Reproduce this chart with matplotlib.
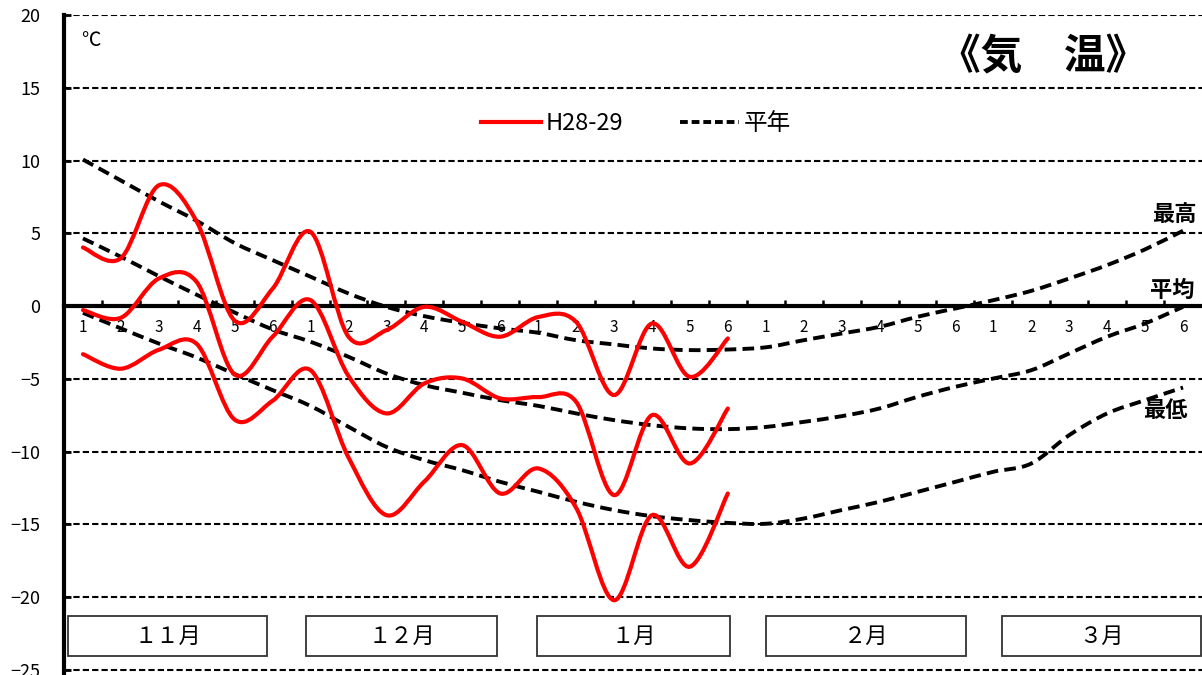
import numpy as np
import matplotlib
matplotlib.use('Agg')
import matplotlib.pyplot as plt
from matplotlib.path import Path
from matplotlib.patches import PathPatch, Rectangle
from matplotlib.lines import Line2D

plt.rcParams['font.family'] = ['Noto Sans CJK JP', 'DejaVu Sans']

# 半旬 (pentad) labels, Nov -> Mar
months = ['１１月', '１２月', '１月', '２月', '３月']
pentads = ['1', '2', '3', '4', '5', '6']
x_labels = pentads * len(months)

# 平年 (normal)
normal_max = [10.07, 8.63, 7.2, 5.86, 4.33, 3.16, 2.02, 0.87, -0.05, -0.69,
              -1.15, -1.53, -1.83, -2.34, -2.63, -2.91, -3.02, -2.98, -2.83, -2.34,
              -1.88, -1.42, -0.73, -0.16, 0.41, 1.05, 1.9, 2.82, 3.9, 5.18]
normal_mean = [4.65, 3.39, 2.06, 0.78, -0.44, -1.6, -2.45, -3.48, -4.63, -5.43,
               -5.95, -6.46, -6.85, -7.37, -7.83, -8.18, -8.4, -8.45, -8.3, -7.95,
               -7.56, -7.03, -6.23, -5.54, -4.97, -4.4, -3.25, -2.1, -1.19, -0.05]
normal_min = [-0.46, -1.53, -2.57, -3.53, -4.67, -5.77, -6.86, -8.29, -9.67, -10.58,
              -11.27, -12.07, -12.75, -13.44, -14.01, -14.43, -14.7, -14.89, -14.95, -14.59,
              -14.01, -13.44, -12.76, -12.07, -11.38, -10.81, -8.86, -7.37, -6.46, -5.59]

# H28-29
obs_max = [4.03, 3.3, 8.3, 5.8, -1.0, 1.2, 5.1, -2.1, -1.65, -0.05,
           -1.08, -2.1, -0.75, -1.08, -6.11, -1.19, -4.86, -2.22]
obs_mean = [-0.27, -0.8, 1.9, 1.65, -4.7, -2.1, 0.41, -4.8, -7.37, -5.31,
            -4.97, -6.34, -6.25, -6.57, -12.98, -7.49, -10.81, -7.03]
obs_min = [-3.3, -4.3, -3.0, -2.6, -7.8, -6.5, -4.4, -10.4, -14.36, -12.05,
           -9.55, -12.87, -11.15, -13.85, -20.2, -14.36, -17.9, -12.87]

# month boxes, in x data units
month_spans = [(-0.4, 4.86), (5.88, 10.92), (11.98, 17.07), (18.0, 23.28), (24.23, 29.48)]

RED = '#ff0000'
DASH = (0, (3, 1.6))


def smooth_path(ys):
    # excel-like smoothed line: catmull-rom turned into cubic beziers
    pts = np.column_stack([np.arange(len(ys)), ys]).astype(float)
    n = len(pts)
    verts = [pts[0]]
    codes = [Path.MOVETO]
    for k in range(n - 1):
        p0 = pts[k - 1] if k > 0 else pts[k]
        p1 = pts[k]
        p2 = pts[k + 1]
        p3 = pts[k + 2] if k + 2 < n else pts[k + 1]
        verts += [p1 + (p2 - p0) / 6, p2 - (p3 - p1) / 6, p2]
        codes += [Path.CURVE4] * 3
    return Path(verts, codes)


fig = plt.figure(figsize=(12.02, 6.75), dpi=100)
ax = fig.add_axes([64 / 1202, 0, 1138 / 1202, 660 / 675])
ax.set_xlim(-0.5, 29.5)
ax.set_ylim(-25.34, 20)

for s in ['top', 'right']:
    ax.spines[s].set_visible(False)
ax.spines['left'].set_linewidth(3)
ax.spines['bottom'].set_position(('data', 0))
ax.spines['bottom'].set_linewidth(3)

ax.set_yticks(np.arange(-25, 21, 5))
ax.tick_params(axis='y', direction='in', length=5, width=2, pad=17, labelsize=13)
ax.yaxis.grid(True, linestyle=(0, (3, 1.5)), linewidth=1.5, color='black')
ax.set_axisbelow(True)

ax.set_xticks(np.arange(0.5, 29, 1))
ax.set_xticklabels([])
ax.set_xticks(np.arange(len(x_labels)), minor=True)
ax.set_xticklabels(x_labels, minor=True)
ax.tick_params(axis='x', which='major', direction='in', length=4, width=1.8)
ax.tick_params(axis='x', which='minor', length=0, pad=9, labelsize=11)

for series in (normal_max, normal_mean, normal_min):
    ax.add_patch(PathPatch(smooth_path(series), fill=False, edgecolor='black',
                           linewidth=2.8, linestyle=DASH, zorder=3))
for series in (obs_max, obs_mean, obs_min):
    ax.add_patch(PathPatch(smooth_path(series), fill=False, edgecolor=RED,
                           linewidth=3, zorder=4, capstyle='round'))

# month boxes
for (x0, x1), name in zip(month_spans, months):
    ax.add_patch(Rectangle((x0, -24.05), x1 - x0, 2.75, facecolor='white',
                           edgecolor='#333333', linewidth=1.3, zorder=5))
    ax.text((x0 + x1) / 2, -22.68, name, ha='center', va='center',
            fontsize=16, zorder=6)

ax.text(0.2, 18.27, '℃', ha='center', va='center', fontsize=14)
ax.text(25.31, 17.1, '《気　温》', ha='center', va='center', fontsize=30,
        fontweight='bold')
ax.text(28.78, 6.3, '最高', ha='center', va='center', fontsize=16, fontweight='bold')
ax.text(28.71, 1.1, '平均', ha='center', va='center', fontsize=16, fontweight='bold')
ax.text(28.53, -7.14, '最低', ha='center', va='center', fontsize=16, fontweight='bold')

handles = [Line2D([], [], color=RED, linewidth=3),
           Line2D([], [], color='black', linewidth=2.8, linestyle=(0, (2, 1)))]
fig.legend(handles, ['H28-29', '平年'], loc='center', ncol=2,
           bbox_to_anchor=(636 / 1202, 1 - 124 / 675), frameon=False,
           fontsize=17, handlelength=2.5, handletextpad=0.2, columnspacing=2.4)

fig.savefig('out.png', dpi=100)
